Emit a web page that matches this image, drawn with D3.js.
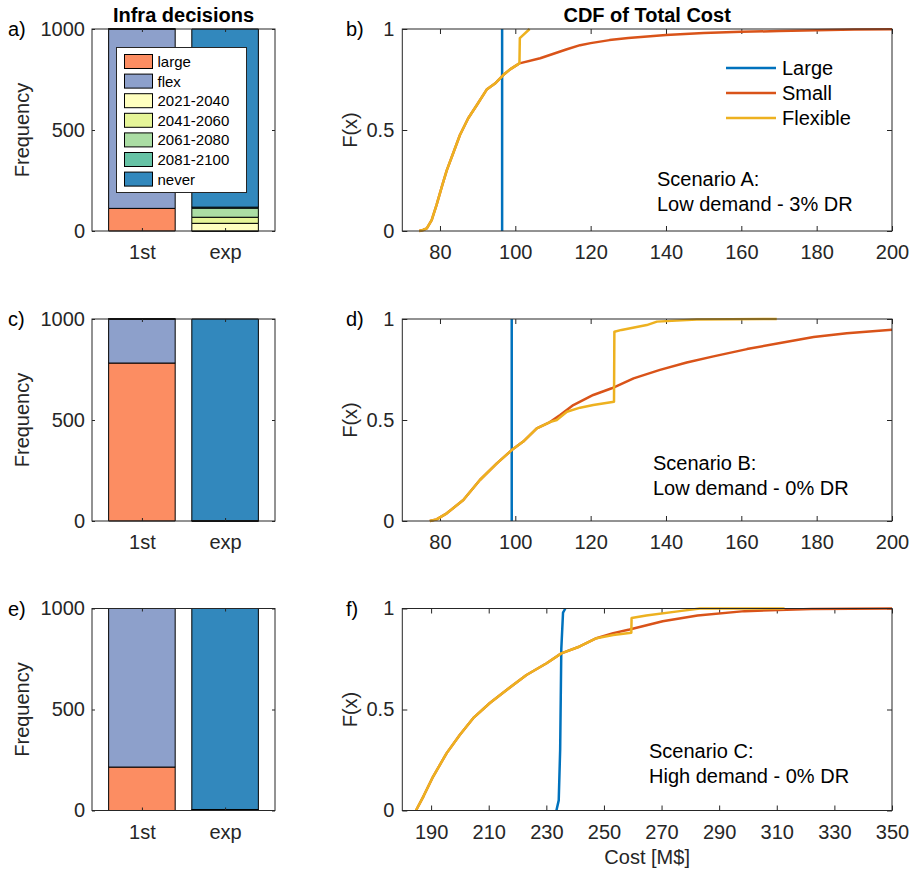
<!DOCTYPE html>
<html>
<head>
<meta charset="utf-8">
<script src="https://cdn.jsdelivr.net/npm/d3@7/dist/d3.min.js"></script>
<style>
  body { margin: 0; background: #fff; }
  svg { display: block; font-family: "Liberation Sans", Arial, sans-serif; }
</style>
</head>
<body>
<div id="chart"></div>
<script>
// ---- data ----
const barCategories = ["1st", "exp"];
const decisionLabels = ["large", "flex", "2021-2040", "2041-2060", "2061-2080", "2081-2100", "never"];
const decisionColors = ["#fc8d62", "#8da0cb", "#ffffbf", "#e6f598", "#abdda4", "#66c2a5", "#3288bd"];

// counts per decision (out of 1000 runs) for each scenario
const firstA = [112, 888, 0, 0, 0, 0, 0];
const expA = [0, 0, 38, 30, 45, 5, 882];
const firstB = [782, 218, 0, 0, 0, 0, 0];
const expB = [0, 0, 2, 0, 0, 0, 998];
const firstC = [215, 785, 0, 0, 0, 0, 0];
const expC = [0, 0, 3, 1, 1, 0, 995];

const barTicks = [0, 500, 1000];

const seriesNames = ["Large", "Small", "Flexible"];
const seriesColors = ["#0072bd", "#d95319", "#edb120"];

// CDF points [cost, F(x)]
const largeA = [[96.5, 0], [96.5, 1]];
const smallA = [[74.5, 0], [75.5, 0.005], [76.5, 0.013], [77.8, 0.054], [79.1, 0.129], [80.5, 0.22], [81.8, 0.30],
  [83.5, 0.385], [85.3, 0.475], [87.5, 0.558], [89.8, 0.624], [92.4, 0.70], [94.6, 0.73], [96.8, 0.772],
  [98.6, 0.80], [101.1, 0.83], [106.6, 0.855], [113.7, 0.90], [117.2, 0.92], [120, 0.93], [125, 0.945],
  [130, 0.955], [140, 0.97], [150, 0.98], [160, 0.986], [170, 0.99], [180, 0.994], [190, 0.997], [200, 0.999]];
const flexA = [[74.5, 0], [75.5, 0.005], [76.5, 0.013], [77.8, 0.054], [79.1, 0.129], [80.5, 0.22], [81.8, 0.30],
  [83.5, 0.385], [85.3, 0.475], [87.5, 0.558], [89.8, 0.624], [92.4, 0.70], [94.6, 0.73], [96.8, 0.772],
  [98.6, 0.80], [101.1, 0.83], [101.2, 0.955], [103.8, 1.0]];

const largeB = [[99.05, 0], [99.05, 1]];
const smallB = [[77.3, 0], [79.1, 0.008], [81.8, 0.038], [86.2, 0.104], [90.6, 0.203], [95.1, 0.285], [99.05, 0.351],
  [102.1, 0.393], [105.7, 0.459], [109.2, 0.49], [111.9, 0.525], [115.4, 0.574], [120.7, 0.624], [125.6, 0.657],
  [131.4, 0.706], [138.4, 0.748], [145.5, 0.785], [152.6, 0.815], [161.5, 0.851], [170.3, 0.881], [179.2, 0.911],
  [188.0, 0.930], [200, 0.947]];
const flexB = [[77.3, 0], [79.1, 0.008], [81.8, 0.038], [86.2, 0.104], [90.6, 0.203], [95.1, 0.285], [99.05, 0.351],
  [102.1, 0.393], [105.7, 0.459], [109.2, 0.49], [111.0, 0.50], [113.7, 0.541], [117.2, 0.561], [120.7, 0.574],
  [126.2, 0.59], [126.3, 0.937], [128.2, 0.946], [134.9, 0.970], [137.6, 0.987], [148.2, 0.998], [169.4, 1]];

const largeC = [[233.5, 0], [234.3, 0.05], [234.8, 0.3], [235, 0.55], [235.2, 0.8], [235.8, 0.98], [236.6, 1]];
const smallC = [[184.75, 0], [187.3, 0.069], [190.7, 0.168], [195.4, 0.284], [200, 0.375], [204.6, 0.457],
  [210.4, 0.532], [216.2, 0.597], [223.1, 0.671], [230.1, 0.729], [235.2, 0.778], [241.6, 0.812], [247.4, 0.853],
  [253.2, 0.878], [258.9, 0.896], [270.4, 0.937], [282.5, 0.965], [298.8, 0.987], [322, 0.998], [350, 1]];
const flexC = [[184.75, 0], [187.3, 0.069], [190.7, 0.168], [195.4, 0.284], [200, 0.375], [204.6, 0.457],
  [210.4, 0.532], [216.2, 0.597], [223.1, 0.671], [230.1, 0.729], [235.2, 0.778], [241.6, 0.812], [247.4, 0.853],
  [253.2, 0.869], [259.5, 0.88], [259.6, 0.953], [264.7, 0.965], [276.3, 0.987], [283.3, 1.0], [312.7, 1]];

const cdfTicksLow = [80, 100, 120, 140, 160, 180, 200];
const cdfTicksHigh = [190, 210, 230, 250, 270, 290, 310, 330, 350];
const cdfYTicks = [0, 0.5, 1];

const scenarioTitles = ["Scenario A:", "Scenario B:", "Scenario C:"];
const scenarioSubtitles = ["Low demand - 3% DR", "Low demand - 0% DR", "High demand - 0% DR"];
const panelLetters = [["a)", "b)"], ["c)", "d)"], ["e)", "f)"]];

// ---- layout ----
const W = 916, H = 873;
const font = '"Liberation Sans", Arial, sans-serif';
const axisColor = "#262626";
const barLeft = 92, barRight = 275;
const cdfLeft = 402.3, cdfRight = 892;
const rowTops = [29, 319, 608.5];
const plotH = 202;

const rows = [
  { first: firstA, exp: expA, cdf: [largeA, smallA, flexA], xDomain: [70, 200], xTicks: cdfTicksLow, note: [657, 186] },
  { first: firstB, exp: expB, cdf: [largeB, smallB, flexB], xDomain: [70, 200], xTicks: cdfTicksLow, note: [653, 470] },
  { first: firstC, exp: expC, cdf: [largeC, smallC, flexC], xDomain: [180, 350], xTicks: cdfTicksHigh, note: [649, 758] }
];

const svg = d3.select("#chart").append("svg")
  .attr("width", W)
  .attr("height", H);

function styleAxis(g) {
  g.select(".domain").remove();
  g.selectAll("line").attr("stroke", axisColor);
  g.selectAll("text").attr("fill", axisColor).attr("font-size", 20).attr("font-family", font);
}

rows.forEach((row, r) => {
  const top = rowTops[r], bottom = top + plotH;

  // ---- stacked bars ----
  const x = d3.scaleLinear().domain([0.4, 2.6]).range([barLeft, barRight]);
  const y = d3.scaleLinear().domain([0, 1000]).range([bottom, top]);

  const table = barCategories.map((c, i) => {
    const vals = i === 0 ? row.first : row.exp;
    const o = { cat: c };
    decisionLabels.forEach((k, j) => { o[k] = vals[j]; });
    return o;
  });
  const stacked = d3.stack().keys(decisionLabels)(table);

  const gb = svg.append("g");
  stacked.forEach((layer, j) => {
    layer.forEach((seg, i) => {
      const x0 = x(i + 1 - 0.4), x1 = x(i + 1 + 0.4);
      const y0 = y(seg[0]), y1 = y(seg[1]);
      gb.append("path")
        .attr("d", `M${x0},${y0}H${x1}V${y1}H${x0}Z`)
        .attr("fill", decisionColors[j])
        .attr("stroke", "#000")
        .attr("stroke-width", 1);
    });
  });

  gb.append("g").attr("transform", `translate(${barLeft},0)`)
    .call(d3.axisLeft(y).tickValues(barTicks).tickFormat(d3.format("d")).tickSizeInner(-3).tickSizeOuter(0).tickPadding(7))
    .call(styleAxis);
  gb.append("g").attr("transform", `translate(${barRight},0)`)
    .call(d3.axisRight(y).tickValues(barTicks).tickSizeInner(-3).tickSizeOuter(0).tickFormat(""))
    .call(styleAxis);
  gb.append("g").attr("transform", `translate(0,${bottom})`)
    .call(d3.axisBottom(x).tickValues([1, 2]).tickFormat((d) => barCategories[d - 1])
      .tickSizeInner(-3).tickSizeOuter(0).tickPadding(14))
    .call(styleAxis);
  gb.append("g").attr("transform", `translate(0,${top})`)
    .call(d3.axisTop(x).tickValues([1, 2]).tickSizeInner(-3).tickSizeOuter(0).tickFormat(""))
    .call(styleAxis);
  gb.append("rect")
    .attr("x", barLeft).attr("y", top)
    .attr("width", barRight - barLeft).attr("height", plotH)
    .attr("fill", "none").attr("stroke", axisColor).attr("stroke-width", 1);

  gb.append("text")
    .attr("transform", `translate(28.5,${(top + bottom) / 2}) rotate(-90)`)
    .attr("text-anchor", "middle")
    .attr("font-size", 20).attr("fill", axisColor)
    .text("Frequency");
  svg.append("text")
    .attr("x", 8).attr("y", top + 7)
    .attr("font-size", 20).attr("fill", "#000")
    .text(panelLetters[r][0]);

  // ---- CDF panel ----
  const cx = d3.scaleLinear().domain(row.xDomain).range([cdfLeft, cdfRight]);
  const cy = d3.scaleLinear().domain([0, 1]).range([bottom, top]);
  const gc = svg.append("g");

  gc.append("clipPath").attr("id", "clip" + r)
    .append("rect").attr("x", cdfLeft).attr("y", top - 2)
    .attr("width", cdfRight - cdfLeft).attr("height", plotH + 4);

  gc.append("g").attr("transform", `translate(${cdfLeft},0)`)
    .call(d3.axisLeft(cy).tickValues(cdfYTicks).tickFormat(d3.format("")).tickSizeInner(-5).tickSizeOuter(0).tickPadding(8))
    .call(styleAxis);
  gc.append("g").attr("transform", `translate(${cdfRight},0)`)
    .call(d3.axisRight(cy).tickValues(cdfYTicks).tickSizeInner(-5).tickSizeOuter(0).tickFormat(""))
    .call(styleAxis);
  gc.append("g").attr("transform", `translate(0,${bottom})`)
    .call(d3.axisBottom(cx).tickValues(row.xTicks).tickFormat(d3.format("d")).tickSizeInner(-5).tickSizeOuter(0).tickPadding(14))
    .call(styleAxis);
  gc.append("g").attr("transform", `translate(0,${top})`)
    .call(d3.axisTop(cx).tickValues(row.xTicks).tickSizeInner(-5).tickSizeOuter(0).tickFormat(""))
    .call(styleAxis);

  const line = d3.line().x((d) => cx(d[0])).y((d) => cy(d[1]));
  const lines = gc.append("g").attr("clip-path", `url(#clip${r})`);
  row.cdf.forEach((pts, k) => {
    lines.append("path")
      .attr("d", line(pts))
      .attr("fill", "none")
      .attr("stroke", seriesColors[k])
      .attr("stroke-width", 2.5)
      .attr("stroke-linejoin", "round");
  });

  gc.append("rect")
    .attr("x", cdfLeft).attr("y", top)
    .attr("width", cdfRight - cdfLeft).attr("height", plotH)
    .attr("fill", "none").attr("stroke", axisColor).attr("stroke-width", 1);

  gc.append("text")
    .attr("transform", `translate(357,${(top + bottom) / 2}) rotate(-90)`)
    .attr("text-anchor", "middle")
    .attr("font-size", 20).attr("fill", axisColor)
    .text("F(x)");
  svg.append("text")
    .attr("x", 346).attr("y", top + 7)
    .attr("font-size", 20).attr("fill", "#000")
    .text(panelLetters[r][1]);

  const note = gc.append("text").attr("font-size", 20).attr("fill", "#000");
  note.append("tspan").attr("x", row.note[0]).attr("y", row.note[1]).text(scenarioTitles[r]);
  note.append("tspan").attr("x", row.note[0]).attr("y", row.note[1] + 25).text(scenarioSubtitles[r]);
});

// ---- bar legend (panel a) ----
const lg = svg.append("g");
lg.append("rect")
  .attr("x", 116.5).attr("y", 47.5).attr("width", 130).attr("height", 145)
  .attr("fill", "#fff").attr("stroke", axisColor).attr("stroke-width", 1);
decisionLabels.forEach((k, j) => {
  const cyy = 61.5 + j * 19.6;
  lg.append("rect")
    .attr("x", 124.5).attr("y", cyy - 7).attr("width", 28).attr("height", 14)
    .attr("fill", decisionColors[j]).attr("stroke", "#000").attr("stroke-width", 1);
  lg.append("text")
    .attr("x", 157.5).attr("y", cyy + 5.5)
    .attr("font-size", 15).attr("fill", "#000")
    .text(k);
});

// ---- line legend (panel b) ----
const ll = svg.append("g");
seriesNames.forEach((name, k) => {
  const yy = 68 + k * 25;
  ll.append("line")
    .attr("x1", 726).attr("x2", 776).attr("y1", yy).attr("y2", yy)
    .attr("stroke", seriesColors[k]).attr("stroke-width", 2.5);
  ll.append("text")
    .attr("x", 782).attr("y", yy + 7)
    .attr("font-size", 20).attr("fill", "#000")
    .text(name);
});

// ---- titles and x label ----
svg.append("text")
  .attr("x", (barLeft + barRight) / 2).attr("y", 22)
  .attr("text-anchor", "middle").attr("font-size", 20).attr("font-weight", "bold")
  .text("Infra decisions");
svg.append("text")
  .attr("x", (cdfLeft + cdfRight) / 2).attr("y", 22)
  .attr("text-anchor", "middle").attr("font-size", 20).attr("font-weight", "bold")
  .text("CDF of Total Cost");
svg.append("text")
  .attr("x", (cdfLeft + cdfRight) / 2).attr("y", 864)
  .attr("text-anchor", "middle").attr("font-size", 20).attr("fill", axisColor)
  .text("Cost [M$]");
</script>
</body>
</html>
